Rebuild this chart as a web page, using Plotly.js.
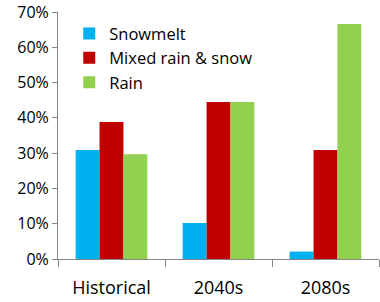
<!DOCTYPE html>
<html>
<head>
<meta charset="utf-8">
<script src="https://cdn.plot.ly/plotly-3.0.1.min.js"></script>
<style>
  html, body { margin: 0; padding: 0; background: #fff; }
  #chart { width: 380px; height: 302px; }
</style>
</head>
<body>
<div id="chart"></div>
<script>
// values (fractions)
const periods = ['Historical', '2040s', '2080s'];
const snowmelt = [0.309, 0.102, 0.021];
const mixed = [0.388, 0.445, 0.309];
const rain = [0.297, 0.445, 0.666];

const series_names = ['Snowmelt', 'Mixed rain & snow', 'Rain'];
const series_colors = ['#00b0f0', '#c00000', '#92d050'];

let traces = [snowmelt, mixed, rain].map((vals, i) => ({
    type: 'bar',
    x: periods,
    y: vals,
    name: series_names[i],
    marker: {color: series_colors[i]},
    hoverinfo: 'none'
}));

const layout = {
    width: 380, height: 302,
    margin: {l: 58, r: 1, t: 12, b: 43},
    paper_bgcolor: '#fff', plot_bgcolor: '#fff',
    barmode: 'group',
    bargap: 0.33,
    bargroupgap: 0,
    showlegend: true,
    legend: {
        x: 0.035, y: 0.983, xanchor: 'left', yanchor: 'top',
        font: {family: 'Open Sans, sans-serif', size: 16.5, color: '#000'},
        bgcolor: 'rgba(0,0,0,0)',
        itemwidth: 30,
        tracegroupgap: 0
    },
    xaxis: {
        showline: true, linecolor: '#868686', linewidth: 1,
        ticks: 'outside', tickson: 'boundaries', ticklen: 7, tickcolor: '#868686',
        ticklabelstandoff: 12,
        tickfont: {family: 'Open Sans, sans-serif', size: 18, color: '#000'},
        showgrid: false
    },
    yaxis: {
        range: [0, 0.7],
        dtick: 0.1,
        tickformat: '.0%',
        showline: true, linecolor: '#868686', linewidth: 1,
        ticks: 'outside', ticklen: 5, tickcolor: '#868686',
        tickfont: {family: 'Open Sans, sans-serif', size: 16, color: '#000'},
        showgrid: false, zeroline: false
    }
};

Plotly.newPlot('chart', traces, layout, {displayModeBar: false, staticPlot: true});
</script>
</body>
</html>
